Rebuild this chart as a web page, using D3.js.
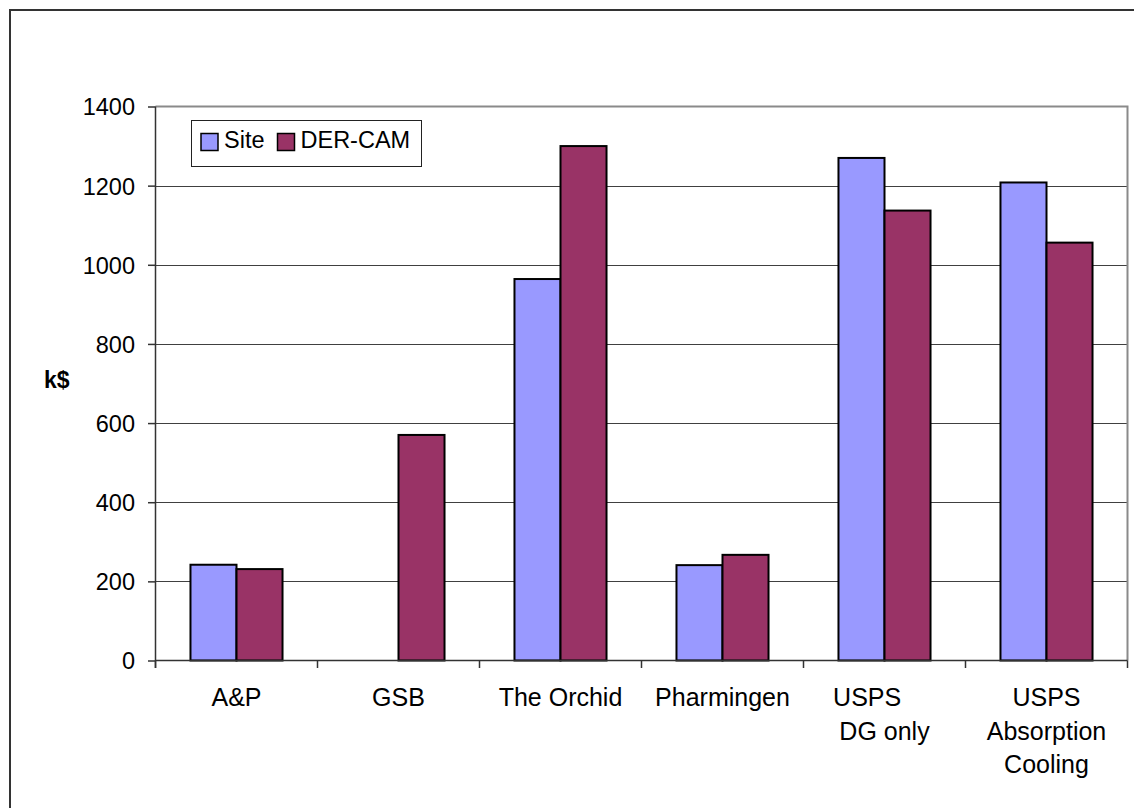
<!DOCTYPE html>
<html>
<head>
<meta charset="utf-8">
<script src="https://cdn.jsdelivr.net/npm/d3@7"></script>
<style>
  html, body { margin: 0; padding: 0; background: #fff; }
  svg { display: block; font-family: "Liberation Sans", Arial, sans-serif; }
</style>
</head>
<body>
<svg id="chart" width="1134" height="808"></svg>
<script>
// Annual energy cost per site, reported by the site vs. the DER-CAM model (k$)
const categories = ["A&P", "GSB", "The Orchid", "Pharmingen", "USPS     \nDG only", "USPS\nAbsorption\nCooling"];
const seriesNames = ["Site", "DER-CAM"];
const siteValues = [242, null, 964, 241, 1270, 1208];
const dercamValues = [231, 570, 1300, 267, 1137, 1056];
const yTicks = [0, 200, 400, 600, 800, 1000, 1200, 1400];
const seriesColors = ["#9999ff", "#993366"];

const svg = d3.select("#chart");

// outer chart frame
svg.append("rect")
  .attr("x", 10).attr("y", 10)
  .attr("width", 1140).attr("height", 820)
  .attr("fill", "#fff")
  .attr("stroke", "#333").attr("stroke-width", 2);

const plot = { left: 155.5, right: 1127.5, top: 106.5, bottom: 660.5 };

const x = d3.scaleBand().domain(categories).range([plot.left, plot.right]).padding(0);
const xInner = d3.scaleBand().domain(seriesNames).range([0, x.bandwidth()])
  .paddingInner(0).paddingOuter(0.76);
const y = d3.scaleLinear().domain([0, 1400]).range([plot.bottom, plot.top]);

// horizontal gridlines
svg.append("g")
  .selectAll("line")
  .data(yTicks.filter(d => d > 0 && d < 1400))
  .join("line")
  .attr("x1", plot.left).attr("x2", plot.right)
  .attr("y1", d => Math.round(y(d)) + 0.5).attr("y2", d => Math.round(y(d)) + 0.5)
  .attr("stroke", "#404040").attr("stroke-width", 1);

// plot area frame (top and right)
svg.append("path")
  .attr("d", `M${plot.left},${plot.top}H${plot.right}V${plot.bottom}`)
  .attr("fill", "none")
  .attr("stroke", "#8a8a8a").attr("stroke-width", 2);

// bars
const rows = categories.map((c, i) => ({ cat: c, vals: [siteValues[i], dercamValues[i]] }));
const groups = svg.append("g").selectAll("g")
  .data(rows).join("g")
  .attr("transform", d => `translate(${x(d.cat)},0)`);
groups.selectAll("rect")
  .data(d => d.vals.map((v, j) => ({ name: seriesNames[j], v, j })).filter(e => e.v != null))
  .join("rect")
  .attr("x", e => xInner(e.name))
  .attr("width", xInner.bandwidth())
  .attr("y", e => y(e.v))
  .attr("height", e => y(0) - y(e.v))
  .attr("fill", e => seriesColors[e.j])
  .attr("stroke", "#000").attr("stroke-width", 2);

// y axis
const yAxis = svg.append("g")
  .attr("transform", `translate(${plot.left},0)`)
  .call(d3.axisLeft(y).tickValues(yTicks).tickFormat(d3.format("d"))
    .tickSize(7.5).tickPadding(13).tickSizeOuter(0));
yAxis.select(".domain").attr("stroke", "#333").attr("stroke-width", 1.5)
  .attr("d", `M0,${plot.top}V${plot.bottom + 7.5}`);
yAxis.selectAll(".tick line").attr("stroke", "#333").attr("stroke-width", 1.5);
yAxis.selectAll(".tick text")
  .attr("font-size", 23.5).attr("fill", "#000")
  .attr("font-family", "'Liberation Sans', Arial, sans-serif")
  .attr("dy", "0.36em");

// x axis line and category separators
const xAxis = svg.append("g");
xAxis.append("line")
  .attr("x1", plot.left).attr("x2", plot.right)
  .attr("y1", plot.bottom).attr("y2", plot.bottom)
  .attr("stroke", "#333").attr("stroke-width", 1.5);
xAxis.selectAll("line.sep")
  .data(categories.map(c => x(c)).concat([plot.right]))
  .join("line").attr("class", "sep")
  .attr("x1", d => d).attr("x2", d => d)
  .attr("y1", plot.bottom).attr("y2", plot.bottom + 7.5)
  .attr("stroke", "#333").attr("stroke-width", 1.5);

// category labels (multi-line)
const labels = xAxis.selectAll("text.cat")
  .data(categories).join("text").attr("class", "cat")
  .attr("x", d => x(d) + x.bandwidth() / 2)
  .attr("y", 706)
  .attr("text-anchor", "middle")
  .attr("font-size", 25)
  .attr("fill", "#000")
  .style("white-space", "pre");
labels.selectAll("tspan")
  .data(d => d.split("\n").map(t => ({ t, c: d })))
  .join("tspan")
  .attr("x", d => x(d.c) + x.bandwidth() / 2)
  .attr("dy", (d, i) => i === 0 ? 0 : 33.5)
  .text(d => d.t);

// y axis title
svg.append("text")
  .attr("x", 44).attr("y", 388)
  .attr("font-size", 23).attr("font-weight", "bold")
  .attr("fill", "#000")
  .text("k$");

// legend
const legend = svg.append("g");
legend.append("rect")
  .attr("x", 191.5).attr("y", 120.5)
  .attr("width", 230).attr("height", 46)
  .attr("fill", "#fff").attr("stroke", "#222").attr("stroke-width", 1);
const legendX = [201, 277.5];
const legendItems = legend.selectAll("g.item")
  .data(seriesNames).join("g").attr("class", "item");
legendItems.append("rect")
  .attr("x", (d, i) => legendX[i]).attr("y", 133.5)
  .attr("width", 17).attr("height", 17)
  .attr("fill", (d, i) => seriesColors[i])
  .attr("stroke", "#000").attr("stroke-width", 1.5);
legendItems.append("text")
  .attr("x", (d, i) => legendX[i] + 23).attr("y", 148)
  .attr("font-size", 23.5).attr("fill", "#000")
  .text(d => d);
</script>
</body>
</html>
